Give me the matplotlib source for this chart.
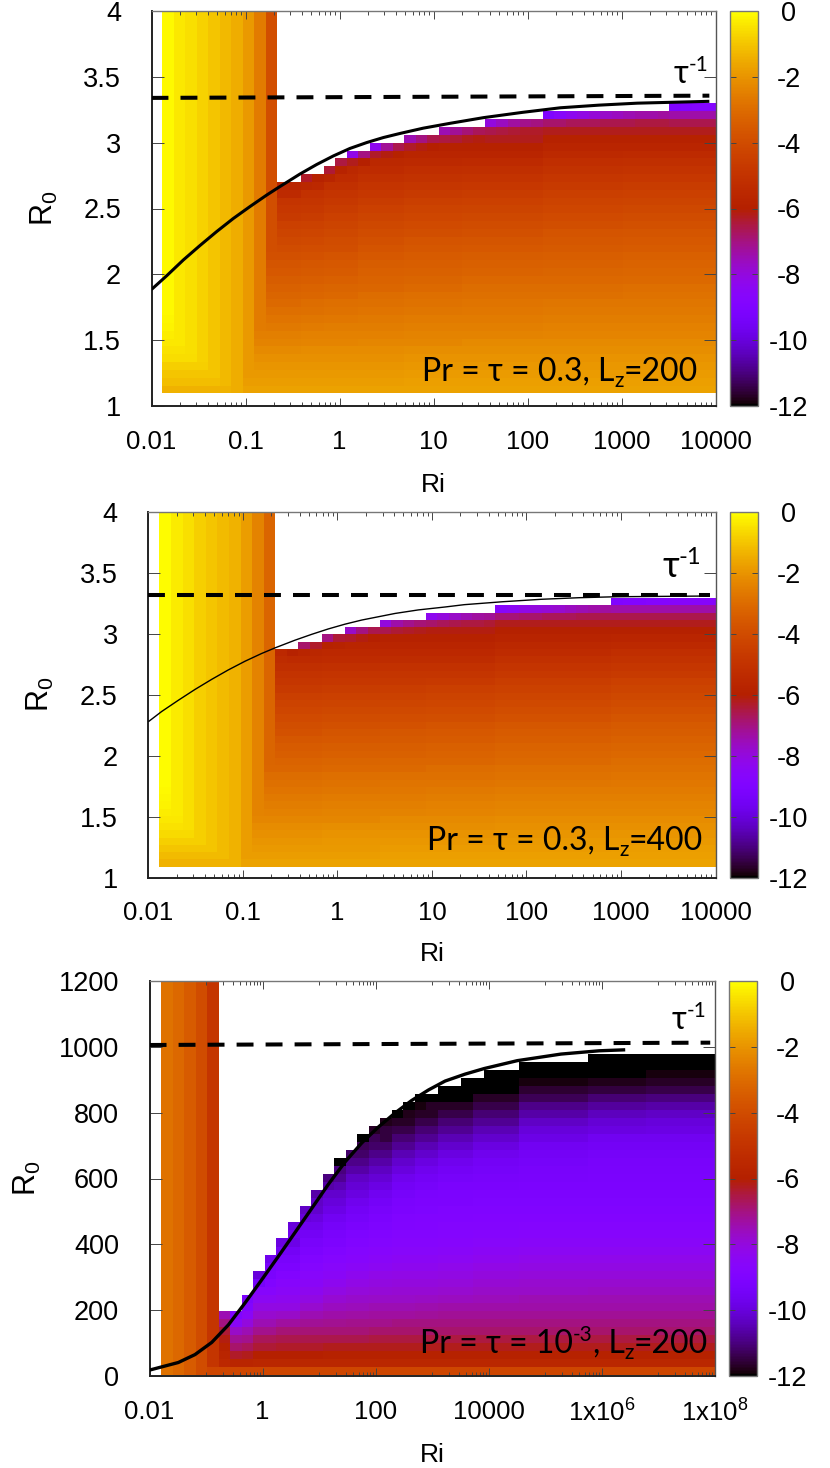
import numpy as np
import matplotlib
matplotlib.use("Agg")
import matplotlib.pyplot as plt
from matplotlib.colors import ListedColormap
from matplotlib.ticker import FixedLocator, NullFormatter

W, H = 830, 1468
plt.rcParams['font.family'] = ['Liberation Sans', 'DejaVu Sans']
plt.rcParams['mathtext.fontset'] = 'custom'
plt.rcParams['mathtext.rm'] = 'Liberation Sans'
plt.rcParams['axes.unicode_minus'] = False

# ---- panel 1: Pr = tau = 0.3, Lz = 200 (values are log growth rate)
p1_strip = [-0.1, -0.4, -0.55, -0.77, -1.0, -1.25, -1.5, -1.9, -2.6, -3.9]
p1_cap = [-1.4, -1.15, -1.0, -0.8, -0.6, -0.5, -0.4, -0.3, -0.2, -0.15, -0.1]
p1_tops = [27, 27, 28, 28, 29, 30, 31, 31, 32, 32, 32, 33, 33, 33, 34, 34, 34, 34, 35, 35, 35, 35, 35,
           36, 36, 36, 36, 36, 36, 36, 36, 36, 36, 36, 37, 37, 37, 37]
p1_a = [-1.7, -1.8, -1.9, -2.0, -2.1, -2.25, -2.4, -2.5, -2.65, -2.8, -2.95, -3.05, -3.2, -3.3, -3.45, -3.6,
        -3.7, -3.85, -4.0, -4.15, -4.3, -4.45, -4.65, -4.8, -4.95, -5.15, -5.35, -5.5]
p1_b = [-1.7, -1.8, -1.9, -2.0, -2.1, -2.2, -2.35, -2.45, -2.6, -2.75, -2.9, -3.0, -3.15, -3.25, -3.4, -3.55,
        -3.65, -3.8, -3.95, -4.1, -4.25, -4.4, -4.6, -4.75, -4.9, -5.1, -5.3, -5.5]
p1_c = [-1.7, -1.8, -1.9, -2.0, -2.1, -2.2, -2.35, -2.45, -2.55, -2.7, -2.85, -2.95, -3.1, -3.2, -3.35, -3.5,
        -3.6, -3.75, -3.9, -4.0, -4.15, -4.3, -4.45, -4.6, -4.75, -4.95, -5.15, -5.35, -5.55, -5.75, -5.95]
p1_d = [-1.7, -1.8, -1.9, -2.0, -2.1, -2.2, -2.3, -2.45, -2.55, -2.65, -2.8, -2.9, -3.0, -3.15, -3.25, -3.35,
        -3.45, -3.6, -3.75, -3.85, -4.0, -4.15, -4.3, -4.45, -4.6, -4.8, -4.95, -5.15, -5.35, -5.55, -5.75, -5.95]
p1_e = [-1.7, -1.75, -1.85, -1.95, -2.05, -2.15, -2.3, -2.4, -2.5, -2.6, -2.75, -2.85, -2.95, -3.05, -3.2, -3.3,
        -3.4, -3.5, -3.65, -3.75, -3.9, -4.05, -4.2, -4.35, -4.5, -4.65, -4.85, -5.05, -5.25, -5.45, -5.7, -5.9,
        -6.15, -6.6, -7.0]
p1_f = [-1.7, -1.75, -1.85, -1.95, -2.05, -2.15, -2.25, -2.4, -2.5, -2.6, -2.7, -2.8, -2.9, -3.0, -3.1, -3.25,
        -3.35, -3.45, -3.6, -3.7, -3.85, -4.0, -4.15, -4.3, -4.45, -4.6, -4.8, -5.0, -5.2, -5.4, -5.7, -5.9,
        -6.2, -6.6, -7.0]
p1_g = [-1.7, -1.75, -1.85, -1.95, -2.05, -2.15, -2.25, -2.35, -2.45, -2.55, -2.65, -2.75, -2.9, -3.0, -3.1, -3.2,
        -3.3, -3.4, -3.55, -3.65, -3.75, -3.9, -4.05, -4.2, -4.35, -4.5, -4.65, -4.85, -5.05, -5.25, -5.45, -5.7,
        -5.9, -6.2, -6.6, -7.4]
p1_h = [-1.7, -1.75, -1.85, -1.95, -2.05, -2.15, -2.25, -2.35, -2.45, -2.55, -2.65, -2.75, -2.85, -2.95, -3.05,
        -3.15, -3.25, -3.35, -3.5, -3.6, -3.7, -3.85, -4.0, -4.15, -4.3, -4.45, -4.6, -4.8, -5.0, -5.2, -5.4,
        -5.7, -5.9, -6.2, -6.6, -7.4, -8.8]
p1_groups = [(p1_a, 2), (p1_b, 2), (p1_c, 3), (p1_d, 4), (p1_e, 5), (p1_f, 7), (p1_g, 7), (p1_h, 8)]
p1_top1 = [-5.6, -5.7, -6.3, -5.9, -6.4, -6.5, -8.2, -7.0, -8.3, -7.2, -6.6, -7.5, -7.0, -6.6, -7.5, -7.2, -6.9,
           -6.7, -8.0, -7.6, -7.3, -7.1, -7.0, -9.0, -8.6, -8.3, -8.1, -7.9, -7.7, -7.6, -7.5, -7.4, -7.4, -7.3,
           -9.0, -8.9, -8.8, -8.8]
p1_top2 = [-5.4, -5.4, -5.6, -5.5, -5.7, -5.8, -6.2, -6.0, -6.3, -6.1, -5.9, -6.3, -6.1, -6.0, -6.5, -6.4, -6.2,
           -6.1, -6.6, -6.5, -6.4, -6.3, -6.3, -6.8, -6.8, -6.7, -6.7, -6.7, -6.6, -6.6, -6.6, -6.5, -6.5, -6.5,
           -7.4, -7.4, -7.4, -7.4]
p1_curve_ri = [0.01, 0.0145, 0.0218, 0.0328, 0.0494, 0.0741, 0.1117, 0.168, 0.2234, 0.38, 0.571, 0.859, 1.29, 1.95,
               2.93, 4.4, 7.76, 15, 34, 88, 224, 575, 1470, 8600]
p1_curve_r0 = [1.885, 1.989, 2.109, 2.219, 2.325, 2.424, 2.515, 2.602, 2.659, 2.762, 2.834, 2.899, 2.956, 3.001,
               3.039, 3.07, 3.11, 3.147, 3.19, 3.23, 3.265, 3.285, 3.30, 3.314]
p1_tau_ri = [0.01, 8600]
p1_tau_r0 = [3.34, 3.357]

# ---- panel 2: Pr = tau = 0.3, Lz = 400
p2_strip = [-0.05, -0.35, -0.55, -0.8, -1.0, -1.2, -1.4, -1.8, -2.4, -3.2]
p2_cap = [-1.4, -1.2, -1.0, -0.8, -0.65, -0.5, -0.4, -0.3, -0.2, -0.15, -0.1]
p2_tops = [30, 30, 31, 31, 32, 32, 33, 33, 33, 34, 34, 34, 34, 35, 35, 35, 35, 35, 35,
           36, 36, 36, 36, 36, 36, 36, 36, 36, 36, 37, 37, 37, 37, 37, 37, 37, 37, 37]
p2_a = [-1.7, -1.8, -1.9, -2.0, -2.1, -2.2, -2.3, -2.45, -2.55, -2.65, -2.8, -2.9, -3.0, -3.15, -3.25, -3.4,
        -3.5, -3.65, -3.8, -3.9, -4.05, -4.2, -4.35, -4.5, -4.65, -4.85, -5.0, -5.2, -5.4, -5.55, -5.7, -5.9]
p2_b = [-1.7, -1.8, -1.9, -1.95, -2.05, -2.15, -2.3, -2.4, -2.5, -2.6, -2.75, -2.85, -2.95, -3.1, -3.2, -3.35,
        -3.45, -3.6, -3.7, -3.85, -4.0, -4.15, -4.3, -4.45, -4.6, -4.8, -4.95, -5.15, -5.35, -5.5, -5.7, -5.9, -6.1]
p2_c = [-1.7, -1.75, -1.85, -1.95, -2.05, -2.15, -2.25, -2.4, -2.5, -2.6, -2.7, -2.8, -2.9, -3.05, -3.15, -3.3,
        -3.4, -3.55, -3.65, -3.8, -3.95, -4.1, -4.25, -4.4, -4.55, -4.75, -4.9, -5.1, -5.3, -5.5, -5.7, -5.9,
        -6.1, -6.4]
p2_d = [-1.7, -1.75, -1.85, -1.95, -2.05, -2.15, -2.25, -2.35, -2.45, -2.55, -2.65, -2.8, -2.9, -3.0, -3.15,
        -3.25, -3.35, -3.5, -3.6, -3.75, -3.9, -4.05, -4.2, -4.35, -4.5, -4.7, -4.9, -5.1, -5.3, -5.5, -5.7,
        -5.9, -6.1, -6.4, -6.9]
p2_e = [-1.7, -1.75, -1.85, -1.9, -2.0, -2.1, -2.2, -2.3, -2.4, -2.5, -2.6, -2.75, -2.85, -2.95, -3.05, -3.15,
        -3.25, -3.4, -3.5, -3.65, -3.8, -3.95, -4.1, -4.25, -4.4, -4.55, -4.75, -4.95, -5.15, -5.35, -5.55, -5.75,
        -5.95, -6.2, -6.6, -7.4]
p2_f = [-1.7, -1.75, -1.8, -1.9, -2.0, -2.1, -2.2, -2.3, -2.4, -2.5, -2.6, -2.7, -2.8, -2.9, -3.0, -3.1, -3.2,
        -3.3, -3.45, -3.55, -3.7, -3.85, -4.0, -4.15, -4.3, -4.45, -4.65, -4.85, -5.05, -5.25, -5.45, -5.7,
        -5.95, -6.2, -6.6, -7.4, -8.8]
p2_groups = [(p2_a, 4), (p2_b, 5), (p2_c, 4), (p2_d, 6), (p2_e, 10), (p2_f, 9)]
p2_top1 = [-5.5, -5.9, -6.8, -6.3, -7.0, -6.4, -7.7, -7.0, -6.6, -8.0, -7.4, -7.1, -6.9, -8.3, -8.0, -7.7, -7.5,
           -7.3, -7.2, -8.6, -8.4, -8.2, -8.0, -7.9, -7.8, -7.6, -7.5, -7.4, -7.3, -9.0, -8.9, -8.9, -8.8, -8.8,
           -8.7, -8.7, -8.7, -8.7]
p2_top2 = [-5.3, -5.4, -5.7, -5.6, -5.9, -5.8, -6.3, -6.1, -6.0, -6.6, -6.4, -6.3, -6.2, -6.8, -6.7, -6.6, -6.5,
           -6.5, -6.4, -6.9, -6.9, -6.8, -6.8, -6.7, -6.7, -6.7, -6.6, -6.6, -6.6, -7.4, -7.4, -7.4, -7.4, -7.4,
           -7.4, -7.4, -7.4, -7.4]
p2_curve_ri = [0.01, 0.0138, 0.0207, 0.0311, 0.0468, 0.07, 0.105, 0.158, 0.219, 0.356, 0.535, 0.80, 1.2, 1.81,
               4.07, 7.18, 13.8, 22, 56, 143, 360, 900, 8700]
p2_curve_r0 = [2.279, 2.362, 2.454, 2.543, 2.626, 2.703, 2.774, 2.838, 2.884, 2.947, 2.995, 3.039, 3.078, 3.112,
               3.166, 3.195, 3.219, 3.238, 3.262, 3.282, 3.295, 3.303, 3.309]
p2_tau_ri = [0.01, 8700]
p2_tau_r0 = [3.32, 3.32]

# ---- panel 3: Pr = tau = 1e-3, Lz = 200
p3_strip = [-2.85, -3.1, -3.5, -4.0, -4.9]
p3_cap = []
p3_tops = [8, 8, 10, 13, 15, 17, 19, 21, 23, 25, 27, 28, 30, 31, 32, 33, 34, 35, 35, 36, 36, 37, 37, 38, 38, 38,
           39, 39, 39, 39, 39, 39, 40, 40, 40, 40, 40, 40, 40, 40, 40, 40, 40]
p3_a = [-4.2, -5.5, -5.7, -5.9, -6.1, -6.4, -7.0, -7.5]
p3_b = [-4.2, -5.7, -6.3, -6.8, -7.2, -7.7, -8.5, -9.0]
p3_c = [-4.2, -5.7, -6.2, -6.7, -7.1, -7.5, -8.0, -8.5, -8.9, -9.1]
p3_d = [-4.2, -5.6, -6.0, -6.4, -6.7, -7.1, -7.5, -7.8, -8.1, -8.4, -8.7, -8.95, -9.2, -9.5, -9.8]
p3_e = [-4.2, -5.6, -6.0, -6.3, -6.6, -6.9, -7.3, -7.7, -8.1, -8.3, -8.5, -8.7, -8.9, -9.1, -9.3, -9.5, -9.8,
        -10.1, -10.4]
p3_f = [-4.2, -5.6, -6.0, -6.3, -6.6, -6.9, -7.2, -7.5, -7.8, -8.1, -8.3, -8.5, -8.65, -8.8, -8.95, -9.1, -9.3,
        -9.5, -9.7, -9.9, -10.2, -10.5, -10.8]
p3_g = [-4.2, -5.6, -5.9, -6.2, -6.6, -6.9, -7.15, -7.4, -7.6, -7.85, -8.1, -8.3, -8.5, -8.65, -8.8, -8.95, -9.1,
        -9.25, -9.4, -9.6, -9.8, -10.0, -10.2, -10.5, -10.8, -11.1, -11.4]
p3_h = [-4.2, -5.6, -5.9, -6.2, -6.6, -6.9, -7.1, -7.35, -7.55, -7.75, -7.95, -8.15, -8.3, -8.5, -8.7, -8.8, -8.95,
        -9.05, -9.2, -9.35, -9.5, -9.7, -9.9, -10.1, -10.3, -10.6, -10.9, -11.2, -11.5, -11.8]
p3_i = [-4.2, -5.6, -5.9, -6.2, -6.5, -6.8, -7.1, -7.3, -7.5, -7.7, -7.9, -8.05, -8.2, -8.4, -8.55, -8.7, -8.85,
        -8.95, -9.05, -9.15, -9.3, -9.45, -9.65, -9.85, -10.1, -10.35, -10.6, -10.9, -11.2, -11.5, -11.8, -12.0]
p3_j = [-4.2, -5.6, -5.9, -6.2, -6.5, -6.8, -7.0, -7.3, -7.5, -7.7, -7.85, -8.0, -8.15, -8.3, -8.45, -8.6, -8.75,
        -8.85, -8.95, -9.0, -9.1, -9.2, -9.35, -9.5, -9.7, -9.95, -10.2, -10.5, -10.8, -11.1, -11.4, -11.7, -12.0,
        -12.0]
p3_k = [-4.2, -5.6, -5.9, -6.2, -6.5, -6.8, -7.0, -7.25, -7.45, -7.65, -7.85, -8.0, -8.15, -8.3, -8.45, -8.6, -8.75,
        -8.85, -8.9, -8.95, -9.05, -9.1, -9.2, -9.35, -9.5, -9.7, -9.9, -10.2, -10.5, -10.8, -11.1, -11.4, -11.7,
        -12.0, -12.0]
p3_l = [-4.2, -5.6, -5.9, -6.2, -6.5, -6.8, -7.0, -7.2, -7.4, -7.6, -7.8, -7.95, -8.1, -8.25, -8.4, -8.55, -8.7,
        -8.8, -8.85, -8.95, -9.0, -9.1, -9.15, -9.2, -9.35, -9.5, -9.7, -9.9, -10.2, -10.5, -10.8, -11.1, -11.4,
        -11.7, -12.0, -12.0, -12.0]
p3_m = [-4.2, -5.6, -5.9, -6.2, -6.5, -6.8, -7.0, -7.2, -7.4, -7.55, -7.7, -7.85, -8.0, -8.15, -8.3, -8.45, -8.6,
        -8.75, -8.85, -8.9, -9.0, -9.05, -9.1, -9.2, -9.3, -9.4, -9.5, -9.7, -9.9, -10.2, -10.5, -10.8, -11.1,
        -11.4, -11.7, -12.0, -12.0, -12.0]
p3_n = [-4.2, -5.6, -5.9, -6.2, -6.5, -6.8, -7.0, -7.2, -7.4, -7.5, -7.7, -7.8, -7.95, -8.1, -8.25, -8.4, -8.55,
        -8.7, -8.8, -8.9, -9.0, -9.05, -9.1, -9.15, -9.25, -9.3, -9.4, -9.5, -9.6, -9.8, -10.0, -10.3, -10.6,
        -10.9, -11.3, -11.6, -11.9, -12.0, -12.0]
p3_o = [-4.2, -5.6, -5.9, -6.2, -6.5, -6.8, -7.0, -7.2, -7.4, -7.5, -7.65, -7.8, -7.95, -8.1, -8.25, -8.4, -8.55,
        -8.7, -8.8, -8.9, -9.0, -9.05, -9.1, -9.15, -9.2, -9.25, -9.3, -9.4, -9.5, -9.65, -9.9, -10.1, -10.4,
        -10.7, -11.1, -11.5, -11.8, -12.0, -12.0, -12.0]
p3_p = [-4.2, -5.6, -5.9, -6.2, -6.5, -6.8, -7.0, -7.2, -7.4, -7.5, -7.65, -7.8, -7.95, -8.1, -8.25, -8.4, -8.55,
        -8.7, -8.8, -8.9, -9.0, -9.05, -9.1, -9.15, -9.2, -9.25, -9.3, -9.4, -9.5, -9.65, -9.85, -10.0, -10.3,
        -10.6, -11.0, -11.4, -11.7, -11.9, -12.0, -12.0]
p3_groups = [(p3_a, 1), (p3_b, 1), (p3_c, 1), (p3_d, 2), (p3_e, 2), (p3_f, 2), (p3_g, 2), (p3_h, 2), (p3_i, 2),
             (p3_j, 2), (p3_k, 2), (p3_l, 3), (p3_m, 4), (p3_n, 6), (p3_o, 5), (p3_p, 6)]
p3_top1 = [-7.5, -9.0, -9.1, -10.0, -9.7, -9.9, -10.0, -10.3, -10.6, -11.0, -12.0, -11.2, -12.0, -11.7, -11.8, -12.0,
           -12.0, -12.0, -12.0, -12.0, -12.0, -12.0, -12.0, -12.0, -12.0, -12.0, -12.0, -12.0, -12.0, -12.0, -12.0,
           -12.0, -12.0, -12.0, -12.0, -12.0, -12.0, -12.0, -12.0, -12.0, -12.0, -12.0, -12.0]
p3_top2 = [-7.0, -8.5, -8.9, -9.4, -9.3, -9.5, -9.7, -10.0, -10.3, -10.6, -11.0, -10.9, -11.3, -11.3, -11.5, -11.7,
           -11.8, -11.9, -11.7, -12.0, -12.0, -12.0, -12.0, -12.0, -12.0, -12.0, -12.0, -12.0, -12.0, -12.0, -12.0,
           -12.0, -12.0, -12.0, -12.0, -12.0, -12.0, -12.0, -12.0, -12.0, -12.0, -12.0, -12.0]
p3_curve_ri = [0.01, 0.0322, 0.0635, 0.1256, 0.247, 0.488, 0.96, 1.89, 3.74, 7.38, 14.5, 28.6, 56.6, 111, 220, 433,
               860, 1690, 3800, 8300, 32000, 190000, 900000, 2600000]
p3_curve_r0 = [18, 41, 65, 102, 155, 222, 292, 363, 436, 509, 582, 650, 708, 756, 799, 837, 869, 896, 917, 934,
               958, 978, 988, 991]
p3_tau_ri = [0.01, 8.3e7]
p3_tau_r0 = [1005.6, 1012.7]

cbar_ticks = [0, -2, -4, -6, -8, -10, -12]
xt_low = [0.01, 0.1, 1, 10, 100, 1000, 10000]
xl_low = ['0.01', '0.1', '1', '10', '100', '1000', '10000']
xt_high = [0.01, 1, 100, 10000, 1e6, 1e8]
xl_high = ['0.01', '1', '100', '10000', r'$\mathrm{1x10^{6}}$', r'$\mathrm{1x10^{8}}$']
yt_low = [1, 1.5, 2, 2.5, 3, 3.5, 4]
yl_low = ['1', '1.5', '2', '2.5', '3', '3.5', '4']
yt_high = [0, 200, 400, 600, 800, 1000, 1200]

# same palette as gnuplot pm3d rgbformulae 7,5,15
s = np.linspace(0, 1, 256)
cmap = ListedColormap(np.c_[np.sqrt(s), s ** 3, np.clip(np.sin(2 * np.pi * s), 0, 1)])


def build_grid(n_rows, strip, cap, tops, groups, top1, top2):
    n_strip = len(strip)
    n_cols = n_strip + len(tops)
    grid = np.full((n_rows, n_cols), np.nan)
    low = groups[0][0]
    for j, v in enumerate(strip):
        for i in range(n_rows):
            val = max(v, low[i]) if i < len(low) else v
            if i < len(cap):
                val = min(val, cap[i])
            grid[i, j] = val
    k = n_strip
    idx = 0
    for vals, count in groups:
        for _ in range(count):
            top = tops[idx]
            grid[:top, k] = vals[:top]
            grid[top - 1, k] = top1[idx]
            grid[top - 2, k] = top2[idx]
            k += 1
            idx += 1
    return np.ma.masked_invalid(grid)


def axes_px(x0, x1, y0, y1):
    return fig.add_axes([x0 / W, 1 - y1 / H, (x1 - x0) / W, (y1 - y0) / H])


def chain_text(x, y, pieces):
    # text pieces on one baseline, x and y in pixels from top left
    for txt, size, dy in pieces:
        t = fig.text(x / W, 1 - (y + dy) / H, txt, fontsize=size, ha='left', va='baseline',
                     family=['Lato', 'Open Sans', 'DejaVu Sans'], color='black', zorder=10)
        x = t.get_window_extent(renderer).x1


fig = plt.figure(figsize=(W / 100, H / 100), dpi=100)
renderer = fig.canvas.get_renderer()

panels = [
    dict(box=(151.5, 715.5, 11, 406), bar=(730, 758, 11, 406),
         grid=build_grid(49, p1_strip, p1_cap, p1_tops, p1_groups, p1_top1, p1_top2),
         x0=0.0130, x1=1e4, y0=1.096, y1=1.096 + 0.0595 * 49, xlim=(0.01, 1e4), ylim=(1, 4),
         xt=xt_low, xl=xl_low, yt=yt_low, yl=yl_low, minor=10,
         cx=p1_curve_ri, cy=p1_curve_r0, clw=2.2, tx=p1_tau_ri, ty=p1_tau_r0,
         rilab=473, r0lab=60),
    dict(box=(148.4, 715.5, 511.7, 877.7), bar=(730, 758, 511.7, 877.7),
         grid=build_grid(49, p2_strip, p2_cap, p2_tops, p2_groups, p2_top1, p2_top2),
         x0=0.0131, x1=1e4, y0=1.09, y1=1.09 + 0.0595 * 49, xlim=(0.01, 1e4), ylim=(1, 4),
         xt=xt_low, xl=xl_low, yt=yt_low, yl=yl_low, minor=10,
         cx=p2_curve_ri, cy=p2_curve_r0, clw=1.0, tx=p2_tau_ri, ty=p2_tau_r0,
         rilab=942, r0lab=56),
    dict(box=(149.6, 714.8, 981, 1376), bar=(729, 757, 981, 1376),
         grid=build_grid(50, p3_strip, p3_cap, p3_tops, p3_groups, p3_top1, p3_top2),
         x0=0.0160, x1=1e8, y0=3, y1=3 + 24.4 * 50, xlim=(0.01, 1e8), ylim=(0, 1200),
         xt=xt_high, xl=xl_high, yt=yt_high, yl=[str(v) for v in yt_high], minor=100,
         cx=p3_curve_ri, cy=p3_curve_r0, clw=2.4, tx=p3_tau_ri, ty=p3_tau_r0,
         rilab=1443, r0lab=43),
]

for p in panels:
    x0, x1, y0, y1 = p['box']
    ax = axes_px(x0, x1, y0, y1)
    g = p['grid']
    xe = np.geomspace(p['x0'], p['x1'], g.shape[1] + 1)
    ye = np.linspace(p['y0'], p['y1'], g.shape[0] + 1)
    mesh = ax.pcolormesh(xe, ye, g, cmap=cmap, vmin=-12, vmax=0, antialiased=False)
    ax.set_xscale('log')
    ax.set_xlim(*p['xlim'])
    ax.set_ylim(*p['ylim'])

    ax.plot(p['cx'], p['cy'], color='black', lw=p['clw'], solid_capstyle='butt', solid_joinstyle='round', zorder=4)
    ax.plot(p['tx'], p['ty'], color='black', lw=2.9, dashes=(4.2, 3.0), zorder=4)

    ax.xaxis.set_major_locator(FixedLocator(p['xt']))
    ax.set_xticklabels(p['xl'])
    # minor x ticks: 2..9 of the decade, or 10..90 of the major step when it spans two decades
    mm = []
    for m in p['xt'][:-1]:
        step = m * p['minor'] / 10
        mm += [step * q for q in range(2, 10)]
        if p['minor'] == 100:
            mm += [m * 10 * q for q in range(1, 10)]
    ax.xaxis.set_minor_locator(FixedLocator(sorted(set(mm))))
    ax.xaxis.set_minor_formatter(NullFormatter())
    ax.set_yticks(p['yt'])
    ax.set_yticklabels(p['yl'])

    ax.tick_params(axis='x', which='major', direction='in', top=True, bottom=True, length=6, width=0.7,
                   color='#444444', labelsize=18.5, pad=17)
    ax.tick_params(axis='x', which='minor', direction='in', top=True, bottom=True, length=3, width=0.7,
                   color='#444444')
    ax.tick_params(axis='y', which='major', direction='in', left=True, right=True, length=8.6, width=0.7,
                   color='#444444', labelsize=19.5, pad=22)

    ax.spines['left'].set_linewidth(1.4)
    ax.spines['bottom'].set_linewidth(1.4)
    ax.spines['left'].set_color('#222222')
    ax.spines['bottom'].set_color('#222222')
    ax.spines['top'].set_color('#777777')
    ax.spines['right'].set_color('#555555')
    ax.spines['top'].set_linewidth(1.0)
    ax.spines['right'].set_linewidth(1.0)

    ax.set_xlabel('Ri', fontsize=19, va='top')
    ax.xaxis.set_label_coords(0.5, -(p['rilab'] - y1) / (y1 - y0))
    ax.set_ylabel(r'$\mathrm{R_0}$', fontsize=22)
    ax.yaxis.set_label_coords(-(x0 - p['r0lab']) / (x1 - x0), 0.5)

    bx0, bx1, by0, by1 = p['bar']
    cax = axes_px(bx0, bx1, by0, by1)
    cb = fig.colorbar(mesh, cax=cax)
    cb.set_ticks(cbar_ticks)
    cb.set_ticklabels([str(v) for v in cbar_ticks])
    cb.outline.set_edgecolor('#777777')
    cb.outline.set_linewidth(1.0)
    cax.tick_params(axis='y', which='major', direction='in', left=True, right=True, length=4.5, width=0.7,
                    color='#444444', labelsize=19.5, pad=22)
    for lab in cax.get_yticklabels():
        lab.set_ha('center')

chain_text(422, 380.7, [('Pr = τ = 0.3, L', 23, 0), ('z', 15, 6), ('=200', 23, 0)])
chain_text(674, 83, [('τ', 23, 0), ('-1', 15, -12)])
chain_text(427, 850, [('Pr = τ = 0.3, L', 23, 0), ('z', 15, 6), ('=400', 23, 0)])
chain_text(662, 577, [('τ', 26, 0), ('-1', 17, -13)])
chain_text(420, 1353, [('Pr = τ = 10', 23, 0), ('-3', 15, -12), (', L', 23, 0), ('z', 15, 6), ('=200', 23, 0)])
chain_text(671.5, 1029, [('τ', 23, 0), ('-1', 15, -12)])

fig.savefig('out.png', dpi=100)
